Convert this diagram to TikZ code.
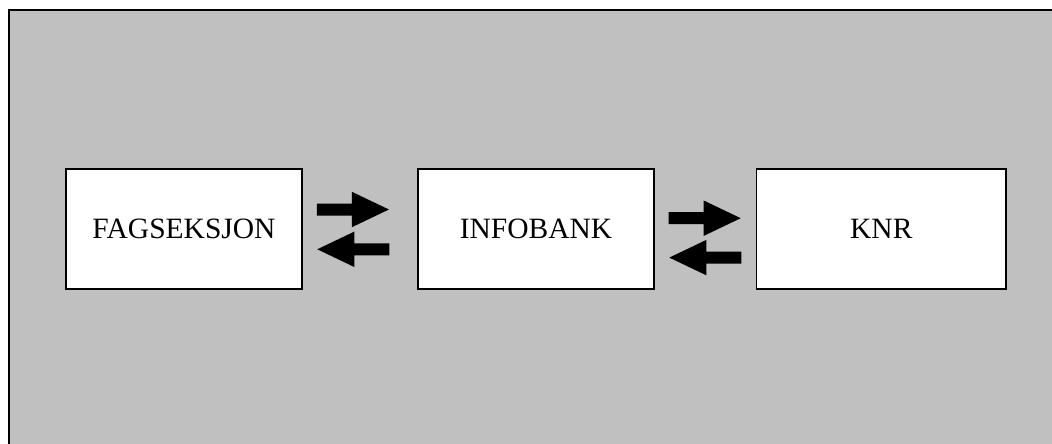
\documentclass[tikz,border=0pt]{standalone}
\usepackage{fontspec}
\setmainfont{Liberation Serif}
\definecolor{panelgray}{HTML}{C0C0C0}
\tikzset{
  unitbox/.style={draw=black, line width=1.6pt, fill=white, minimum height=120pt,
    inner sep=0pt, font=\fontsize{29.5}{34}\selectfont},
  pics/rblock/.style={code={
    \fill[black] (-36,-6) -- (-1,-6) -- (-1,-17.7) -- (36,0) -- (-1,17.7) -- (-1,6) -- (-36,6) -- cycle;}},
  pics/lblock/.style={code={
    \fill[black] (36,-6) -- (1,-6) -- (1,-17.7) -- (-36,0) -- (1,17.7) -- (1,6) -- (36,6) -- cycle;}}
}
\begin{document}
\begin{tikzpicture}[x=1pt, y=-1pt]
  \useasboundingbox (0,0) rectangle (1052,444);
  \begin{scope}
    \clip (0,0) rectangle (1052,444);
    % grey panel with its frame running past the page edge
    \draw[line width=2pt, fill=panelgray] (8.5,10.3) rectangle (1070,460);
  \end{scope}

  \node[unitbox, minimum width=236pt] (fag)  at (184,229.2) {\raisebox{-1.5pt}{FAGSEKSJON}};
  \node[unitbox, minimum width=236pt] (info) at (536,229.2) {\raisebox{-1.5pt}{INFOBANK}};
  \node[unitbox, minimum width=249.5pt] (knr) at (881.3,229.2) {\raisebox{-1.5pt}{KNR}};

  % exchange arrows between the units
  \pic at (352.9,209.5) {rblock};
  \pic at (353.3,249.3) {lblock};
  \pic at (704.7,218.2) {rblock};
  \pic at (705.3,257.6) {lblock};
\end{tikzpicture}
\end{document}
